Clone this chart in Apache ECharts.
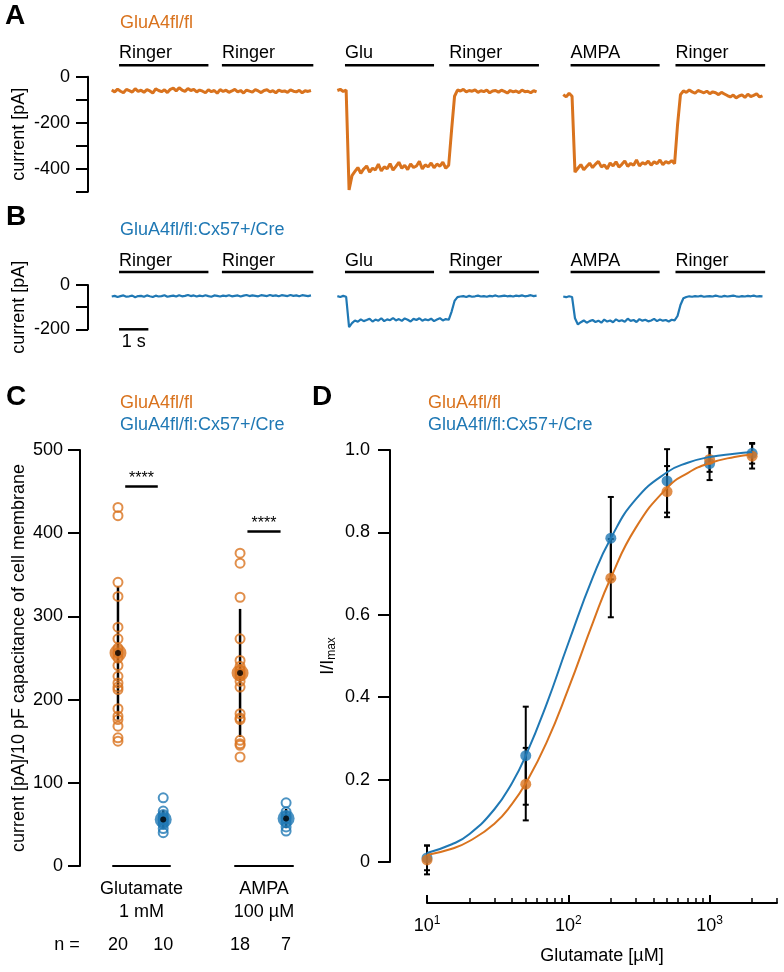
<!DOCTYPE html>
<html><head><meta charset="utf-8">
<script src="https://cdn.jsdelivr.net/npm/echarts@6.0.0/dist/echarts.min.js"></script>
<style>html,body{margin:0;padding:0;background:#fff}#chart{width:784px;height:972px}</style>
</head><body><div id="chart"></div>
<script>
// ---------------- DATA ----------------
// Panels A/B: stimulus bars (seconds) and sampled current traces (pA)
const stimLabels = ['Ringer', 'Ringer', 'Glu', 'Ringer', 'AMPA', 'Ringer'];
const stimStart = [0.25, 3.76, 7.96, 11.52, 15.66, 19.24];
const stimEnd   = [3.30, 6.88, 11.00, 14.58, 18.70, 22.30];
const segStart  = [0, 7.70, 15.41];
const traceDt   = 0.1;
const scaleBarSec = [0.25, 1.25];

const traceA1 = [-58,-66,-54,-63,-70,-55,-61,-67,-52,-64,
 -59,-68,-56,-62,-71,-53,-60,-65,-57,-69,
 -55,-50,-62,-48,-58,-64,-51,-60,-55,-66,
 -58,-63,-70,-57,-65,-60,-72,-56,-64,-59,
 -68,-62,-55,-66,-60,-71,-58,-63,-67,-56,
 -62,-69,-60,-57,-66,-61,-70,-58,-64,-62,
 -68,-57,-63,-66,-59,-70,-61,-64,-60];
const traceA2 = [-60,-55,-64,-58,-492,-430,-412,-395,-420,-401,
 -388,-415,-398,-405,-380,-410,-392,-400,-378,-406,
 -390,-372,-398,-385,-404,-379,-395,-388,-368,-401,
 -383,-392,-375,-396,-380,-389,-372,-398,-385,-230,
 -85,-58,-62,-55,-66,-60,-63,-57,-68,-61,
 -65,-58,-70,-62,-60,-67,-59,-64,-71,-60,
 -66,-62,-69,-58,-65,-63,-70,-61,-66];
const traceA3 = [-78,-88,-72,-85,-415,-398,-382,-405,-390,-376,
 -395,-380,-368,-392,-384,-400,-375,-388,-370,-393,
 -381,-366,-390,-377,-385,-362,-388,-374,-380,-367,
 -385,-370,-378,-362,-383,-369,-376,-365,-378,-210,
 -78,-62,-68,-58,-66,-72,-60,-65,-70,-63,
 -74,-66,-70,-78,-68,-75,-82,-88,-80,-92,
 -84,-79,-90,-76,-86,-81,-74,-88,-83];
const traceB1 = [-52,-49,-54,-50,-47,-53,-51,-48,-55,-50,
 -49,-53,-47,-51,-54,-48,-52,-50,-46,-53,
 -50,-48,-52,-46,-51,-49,-45,-50,-47,-52,
 -48,-51,-46,-50,-53,-47,-49,-52,-48,-50,
 -46,-51,-49,-47,-52,-48,-45,-50,-47,-49,
 -51,-46,-48,-50,-45,-49,-47,-51,-46,-48,
 -50,-45,-49,-47,-51,-46,-48,-50,-47];
const traceB2 = [-50,-54,-49,-53,-190,-172,-160,-166,-155,-163,
 -158,-152,-165,-156,-161,-150,-163,-155,-159,-149,
 -160,-154,-162,-151,-157,-165,-153,-158,-150,-161,
 -155,-159,-152,-163,-156,-150,-160,-154,-157,-120,
 -72,-55,-52,-50,-54,-49,-53,-51,-48,-52,
 -50,-53,-49,-51,-47,-52,-50,-48,-51,-49,
 -52,-48,-50,-47,-51,-49,-46,-50,-48];
const traceB3 = [-52,-55,-51,-54,-150,-178,-168,-160,-170,-163,
 -158,-167,-161,-170,-156,-165,-160,-168,-155,-163,
 -159,-166,-152,-162,-158,-167,-154,-161,-157,-164,
 -160,-153,-163,-156,-161,-158,-165,-157,-160,-140,
 -90,-60,-54,-51,-53,-50,-52,-49,-53,-51,
 -50,-52,-48,-51,-53,-49,-52,-50,-48,-51,
 -53,-50,-52,-49,-51,-48,-52,-50,-51];

// Panel C: current density, pA / 10 pF
const gluFl   = [431,421,341,324,287,273,262,256,250,241,228,220,215,212,189,180,176,168,154,150];
const gluCre  = [82,66,62,58,56,55,52,50,45,40];
const ampaFl  = [376,364,323,273,247,240,235,231,228,222,215,183,178,176,151,147,145,131];
const ampaCre = [76,65,60,57,52,47,42];
const gluMean  = [256, 56];
const gluSD    = [80, 11];
const ampaMean = [232, 57];
const ampaSD   = [77, 11.5];
const sigLevel = [456, 402];
const groupNames = ['Glutamate\n1 mM', 'AMPA\n100 µM'];

// Panel D: dose response
const concX      = [10, 50, 200, 500, 1000, 2000];
const dOrange    = [0.005, 0.189, 0.689, 0.899, 0.977, 0.985];
const dOrangeErr = [0.035, 0.088, 0.095, 0.062, 0.030, 0.030];
const dBlue      = [0.010, 0.258, 0.786, 0.925, 0.967, 0.992];
const dBlueErr   = [0.030, 0.119, 0.100, 0.077, 0.040, 0.025];
const fitX       = [10,15,20,30,40,50,70,100,150,200,300,500,700,1000,1500,2000];
const fitOrange  = [0.017,0.032,0.051,0.093,0.141,0.191,0.289,0.420,0.583,0.690,0.811,0.908,0.944,0.968,0.983,0.989];
const fitBlue    = [0.022,0.043,0.068,0.128,0.192,0.258,0.382,0.531,0.693,0.786,0.880,0.946,0.969,0.983,0.991,0.995];
const majorTicksD = [10, 100, 1000];
const minorTicksD = [20,30,40,50,60,70,80,90,200,300,400,500,600,700,800,900,2000,3000];

// ---------------- STYLE ----------------
const ORANGE = '#D9731E';
const BLUE = '#1F78B4';
const FF = '"Liberation Sans", Arial, Helvetica, sans-serif';
const FS = 18;
const AX = {onZero: false, lineStyle: {color: '#000', width: 2}};

const chart = echarts.init(document.getElementById('chart'), null, {renderer: 'canvas'});

function seg(t0, vals) { return vals.map((v, i) => [+(t0 + i * traceDt).toFixed(3), v]); }

function stimRender(gap, tgap) {
  return function (params, api) {
    const i = api.value(2);
    const p0 = api.coord([api.value(0), 0]);
    const p1 = api.coord([api.value(1), 0]);
    const y = p0[1] - gap;
    return {type: 'group', children: [
      {type: 'line', shape: {x1: p0[0], y1: y, x2: p1[0], y2: y}, style: {stroke: '#000', lineWidth: 2.5}},
      {type: 'text', x: p0[0], y: y - tgap, style: {text: stimLabels[i], fill: '#000', font: FS + 'px ' + FF, align: 'left', verticalAlign: 'middle'}}
    ]};
  };
}
function scaleRender(params, api) {
  const p0 = api.coord([api.value(0), api.value(2)]);
  const p1 = api.coord([api.value(1), api.value(2)]);
  return {type: 'group', children: [
    {type: 'line', shape: {x1: p0[0], y1: p0[1], x2: p1[0], y2: p1[1]}, style: {stroke: '#000', lineWidth: 2.5}},
    {type: 'text', x: (p0[0] + p1[0]) / 2, y: p0[1] + 13, style: {text: '1 s', fill: '#000', font: FS + 'px ' + FF, align: 'center', verticalAlign: 'middle'}}
  ]};
}
function sigRender(params, api) {
  const p0 = api.coord([api.value(0), api.value(2)]);
  const p1 = api.coord([api.value(1), api.value(2)]);
  return {type: 'group', children: [
    {type: 'line', shape: {x1: p0[0], y1: p0[1], x2: p1[0], y2: p1[1]}, style: {stroke: '#000', lineWidth: 2.5}},
    {type: 'text', x: (p0[0] + p1[0]) / 2, y: p0[1] - 8, style: {text: '****', fill: '#000', font: '16px ' + FF, align: 'center', verticalAlign: 'middle'}}
  ]};
}
function vErr(params, api) {
  const x = api.value(0), m = api.value(1), e = api.value(2);
  const a = api.coord([x, m - e]), b = api.coord([x, m + e]);
  return {type: 'line', shape: {x1: a[0], y1: a[1], x2: b[0], y2: b[1]}, style: {stroke: '#000', lineWidth: 2.5}};
}
function vErrCap(params, api) {
  const x = api.value(0), m = api.value(1), e = api.value(2);
  const a = api.coord([x, m - e]), b = api.coord([x, m + e]);
  const w = 3;
  return {type: 'group', children: [
    {type: 'line', shape: {x1: a[0], y1: a[1], x2: b[0], y2: b[1]}, style: {stroke: '#000', lineWidth: 2}},
    {type: 'line', shape: {x1: a[0] - w, y1: a[1], x2: a[0] + w, y2: a[1]}, style: {stroke: '#000', lineWidth: 2}},
    {type: 'line', shape: {x1: b[0] - w, y1: b[1], x2: b[0] + w, y2: b[1]}, style: {stroke: '#000', lineWidth: 2}}
  ]};
}

const gridBase = {outerBoundsMode: 'none', containLabel: false};
const grids = [
  Object.assign({left: 88, top: 76.7, width: 683, height: 115}, gridBase),
  Object.assign({left: 88, top: 285, width: 683, height: 44.3}, gridBase),
  Object.assign({left: 113, top: 450, width: 57, height: 416}, gridBase),
  Object.assign({left: 235, top: 450, width: 58, height: 416}, gridBase),
  Object.assign({left: 427, top: 450, width: 350, height: 412}, gridBase)
];

const txt = {color: '#000', fontSize: FS, fontFamily: FF};

function cXAxis(gi, counts, name) {
  return {
    type: 'value', gridIndex: gi, min: -0.11, max: 1.15,
    axisLine: AX, axisTick: {show: false}, splitLine: {show: false},
    axisLabel: Object.assign({customValues: [0, 1], margin: 70, formatter: v => String(counts[Math.round(v)])}, txt),
    name: name, nameLocation: 'middle', nameGap: 12, nameMoveOverlap: false,
    nameTextStyle: Object.assign({lineHeight: 23, verticalAlign: 'top'}, txt)
  };
}

const xAxes = [
  {type: 'value', gridIndex: 0, min: -0.81, max: 22.5, show: false},
  {type: 'value', gridIndex: 1, min: -0.81, max: 22.5, show: false},
  cXAxis(2, [gluFl.length, gluCre.length], groupNames[0]),
  cXAxis(3, [ampaFl.length, ampaCre.length], groupNames[1]),
  {
    type: 'log', logBase: 10, gridIndex: 4, min: 10, max: 3000, position: 'bottom', offset: 41,
    axisLine: AX, splitLine: {show: false},
    axisTick: {inside: true, length: 8, lineStyle: {color: '#000', width: 2}, customValues: majorTicksD},
    axisLabel: Object.assign({customValues: majorTicksD, margin: 12,
      formatter: v => '10{sup|' + Math.round(Math.log10(v)) + '}',
      rich: {sup: {fontSize: 12, fontFamily: FF, color: '#000', verticalAlign: 'top', padding: [0, 0, 10, 0]}}}, txt),
    name: 'Glutamate [µM]', nameLocation: 'middle', nameGap: 44, nameMoveOverlap: false, nameTextStyle: txt
  },
  {
    type: 'log', logBase: 10, gridIndex: 4, min: 10, max: 3000, position: 'bottom', offset: 41,
    axisLine: {show: false, onZero: false}, splitLine: {show: false}, axisLabel: {show: false},
    axisTick: {inside: true, length: 5, lineStyle: {color: '#000', width: 1.5}, customValues: minorTicksD}
  }
];

const yAxes = [
  {type: 'value', gridIndex: 0, min: -500, max: 0, interval: 100, axisLine: AX,
   axisTick: {length: 12, lineStyle: {color: '#000', width: 2}}, splitLine: {show: false},
   axisLabel: Object.assign({margin: 18, formatter: v => (v % 200 === 0 ? String(v) : '')}, txt),
   name: 'current [pA]', nameLocation: 'middle', nameRotate: 90, nameGap: 60, nameMoveOverlap: false, nameTextStyle: txt},
  {type: 'value', gridIndex: 1, min: -200, max: 0, interval: 100, axisLine: AX,
   axisTick: {length: 12, lineStyle: {color: '#000', width: 2}}, splitLine: {show: false},
   axisLabel: Object.assign({margin: 18, formatter: v => (v % 200 === 0 ? String(v) : '')}, txt),
   name: 'current [pA]', nameLocation: 'middle', nameRotate: 90, nameGap: 60, nameMoveOverlap: false, nameTextStyle: txt},
  {type: 'value', gridIndex: 2, min: 0, max: 500, interval: 100, offset: 33, axisLine: AX,
   axisTick: {length: 12, lineStyle: {color: '#000', width: 2}}, splitLine: {show: false},
   axisLabel: Object.assign({margin: 17}, txt),
   name: 'current [pA]/10 pF capacitance of cell membrane', nameLocation: 'middle', nameRotate: 90, nameGap: 52, nameMoveOverlap: false, nameTextStyle: txt},
  {type: 'value', gridIndex: 3, min: 0, max: 500, show: false},
  {type: 'value', gridIndex: 4, min: 0, max: 1, interval: 0.2, offset: 37, axisLine: AX,
   axisTick: {length: 12, lineStyle: {color: '#000', width: 2}}, splitLine: {show: false},
   axisLabel: Object.assign({margin: 20, formatter: v => (v === 0 ? '0' : v.toFixed(1))}, txt),
   name: 'I/I{sub|max}', nameLocation: 'middle', nameRotate: 90, nameGap: 52, nameMoveOverlap: false,
   nameTextStyle: Object.assign({rich: {sub: {fontSize: 12, fontFamily: FF, color: '#000', verticalAlign: 'bottom', padding: [8, 0, 0, 0]}}}, txt)}
];

const series = [];
// traces
const tracesA = [traceA1, traceA2, traceA3];
const tracesB = [traceB1, traceB2, traceB3];
tracesA.forEach((tr, k) => series.push({type: 'line', xAxisIndex: 0, yAxisIndex: 0, data: seg(segStart[k], tr),
  showSymbol: false, symbol: 'none', lineStyle: {color: ORANGE, width: 3}, animation: false}));
tracesB.forEach((tr, k) => series.push({type: 'line', xAxisIndex: 1, yAxisIndex: 1, data: seg(segStart[k], tr),
  showSymbol: false, symbol: 'none', lineStyle: {color: BLUE, width: 2.2}, animation: false}));
const stimData = stimStart.map((s, i) => [s, stimEnd[i], i]);
series.push({type: 'custom', xAxisIndex: 0, yAxisIndex: 0, renderItem: stimRender(11.5, 12), data: stimData, clip: false, animation: false});
series.push({type: 'custom', xAxisIndex: 1, yAxisIndex: 1, renderItem: stimRender(13, 11), data: stimData, clip: false, animation: false});
series.push({type: 'custom', xAxisIndex: 1, yAxisIndex: 1, renderItem: scaleRender, data: [[scaleBarSec[0], scaleBarSec[1], -200]], clip: false, animation: false});

// panel C
function cGroup(xi, fl, cre, means, sds, sig) {
  const openStyle = c => ({color: 'rgba(255,255,255,0)', borderColor: c, borderWidth: 2});
  series.push({type: 'scatter', xAxisIndex: xi, yAxisIndex: xi, symbol: 'circle', symbolSize: 9,
    data: fl.map(v => [0, v]), itemStyle: openStyle(ORANGE), animation: false, clip: false});
  series.push({type: 'scatter', xAxisIndex: xi, yAxisIndex: xi, symbol: 'circle', symbolSize: 9,
    data: cre.map(v => [1, v]), itemStyle: openStyle(BLUE), animation: false, clip: false});
  series.push({type: 'scatter', xAxisIndex: xi, yAxisIndex: xi, symbolSize: 17, animation: false,
    data: [{value: [0, means[0]], itemStyle: {color: ORANGE}}, {value: [1, means[1]], itemStyle: {color: BLUE}}]});
  series.push({type: 'custom', xAxisIndex: xi, yAxisIndex: xi, renderItem: vErr, animation: false,
    data: [[0, means[0], sds[0]], [1, means[1], sds[1]]]});
  series.push({type: 'scatter', xAxisIndex: xi, yAxisIndex: xi, symbolSize: 6, itemStyle: {color: '#000'}, animation: false,
    data: [[0, means[0]], [1, means[1]]]});
  series.push({type: 'custom', xAxisIndex: xi, yAxisIndex: xi, renderItem: sigRender, animation: false, clip: false,
    data: [[0.16, 0.88, sig]]});
}
cGroup(2, gluFl, gluCre, gluMean, gluSD, sigLevel[0]);
cGroup(3, ampaFl, ampaCre, ampaMean, ampaSD, sigLevel[1]);

// panel D
series.push({type: 'line', xAxisIndex: 4, yAxisIndex: 4, smooth: true, symbol: 'none', animation: false,
  data: fitX.map((x, i) => [x, fitBlue[i]]), lineStyle: {color: BLUE, width: 2}});
series.push({type: 'line', xAxisIndex: 4, yAxisIndex: 4, smooth: true, symbol: 'none', animation: false,
  data: fitX.map((x, i) => [x, fitOrange[i]]), lineStyle: {color: ORANGE, width: 2}});
series.push({type: 'scatter', xAxisIndex: 4, yAxisIndex: 4, symbolSize: 11, itemStyle: {color: BLUE}, animation: false, clip: false,
  data: concX.map((x, i) => [x, dBlue[i]])});
series.push({type: 'scatter', xAxisIndex: 4, yAxisIndex: 4, symbolSize: 11, itemStyle: {color: ORANGE}, animation: false, clip: false,
  data: concX.map((x, i) => [x, dOrange[i]])});
series.push({type: 'custom', xAxisIndex: 4, yAxisIndex: 4, renderItem: vErrCap, animation: false, clip: false,
  data: concX.map((x, i) => [x, dBlue[i], dBlueErr[i]])});
series.push({type: 'custom', xAxisIndex: 4, yAxisIndex: 4, renderItem: vErrCap, animation: false, clip: false,
  data: concX.map((x, i) => [x, dOrange[i], dOrangeErr[i]])});

function T(text, x, y, color, size, weight, align) {
  return {type: 'text', x: x, y: y, silent: true,
    style: {text: text, fill: color || '#000', font: (weight || 'normal') + ' ' + (size || FS) + 'px ' + FF,
      align: align || 'left', verticalAlign: 'middle'}};
}
const graphics = [
  T('A', 5, 16, '#000', 28, 'bold'),
  T('GluA4fl/fl', 120, 23, ORANGE),
  T('B', 6, 217, '#000', 28, 'bold'),
  T('GluA4fl/fl:Cx57+/Cre', 120, 230, BLUE),
  T('C', 6, 397, '#000', 28, 'bold'),
  T('GluA4fl/fl', 120, 403, ORANGE),
  T('GluA4fl/fl:Cx57+/Cre', 120, 425, BLUE),
  T('D', 312, 397, '#000', 28, 'bold'),
  T('GluA4fl/fl', 428, 403, ORANGE),
  T('GluA4fl/fl:Cx57+/Cre', 428, 425, BLUE),
  T('n =', 67, 945, '#000', FS, 'normal', 'center')
];

chart.setOption({
  animation: false,
  backgroundColor: '#fff',
  grid: grids,
  xAxis: xAxes,
  yAxis: yAxes,
  series: series,
  graphic: graphics
});
</script></body></html>
